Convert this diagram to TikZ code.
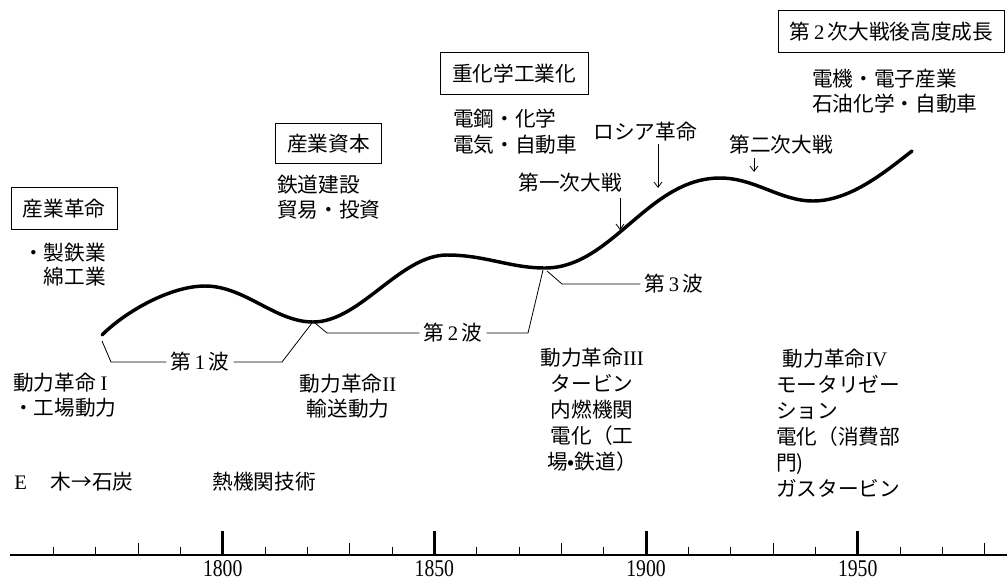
\documentclass[tikz,border=0pt]{standalone}
\usepackage{fontspec}
\setmainfont{Liberation Serif}
\newfontfamily\jp{Noto Sans CJK JP}
\newfontfamily\yearfont[FakeStretch=0.82]{Liberation Serif}
\usetikzlibrary{arrows.meta}
\newcommand\lat[1]{{\rmfamily #1}}
\begin{document}
\begin{tikzpicture}[x=0.75pt,y=-0.75pt,
  txt/.style={inner sep=0pt, font=\jp\fontsize{15.5}{19.5}\selectfont},
  txtB/.style={inner sep=0pt, font=\jp\fontsize{15.5}{18.5}\selectfont},
  boxed/.style={draw, line width=0.75pt, inner sep=0pt, font=\jp\fontsize{15.5}{19}\selectfont},
  wave/.style={line width=0.6pt},
  curve/.style={line width=2.6pt, line cap=round},
  evt/.style={line width=0.6pt, -{Straight Barb[length=4pt,width=6pt]}},
  axisline/.style={line width=2.2pt},
  majortick/.style={line width=2.2pt},
  minortick/.style={line width=0.7pt},
  yearlab/.style={inner sep=0pt, font=\yearfont\fontsize{18}{20}\selectfont}
]
\useasboundingbox (0,0) rectangle (1007,583);

% ---------- boxes ----------
\node[boxed, minimum width=79.5pt, minimum height=32pt] (b1) at (64,208.5) {産業革命};
\node[boxed, minimum width=80pt, minimum height=30pt] (b2) at (328.5,143.5) {産業資本};
\node[boxed, minimum width=111pt, minimum height=31pt] (b3) at (514,73.5) {重化学工業化};
\node[boxed, minimum width=170pt, minimum height=32pt] (b4) at (891.5,31.5) {第\,\lat{2}\,次大戦後高度成長};

% ---------- industry texts ----------
\node[txtB, anchor=west, align=left] (i1) at (23,264.5) {・製鉄業\\　綿工業};
\node[txtB, anchor=west, align=left] (i2) at (277,197.5) {鉄道建設\\貿易・投資};
\node[txt, anchor=west, align=left] (i3) at (453,131.5) {電鋼・化学\\電気・自動車};
\node[txtB, anchor=west, align=left] (i4) at (812,91.5) {電機・電子産業\\石油化学・自動車};

% ---------- power revolutions ----------
\node[txtB, anchor=west, align=left] (p1) at (13,395.5) {動力革命 \lat{I}\\・工場動力};
\node[txtB, align=center] (p2) at (348,396) {動力革命\lat{II}\\輸送動力};
\node[txt, align=center] (p3) at (592,410) {動力革命\lat{III}\\タービン\\内燃機関\\電化（工\\場•鉄道）};
\node[txt, anchor=west, align=left] (p4) at (776,423) {\hspace*{5pt}動力革命\lat{IV}\\モータリゼー\\ション\\電化（消費部\\門)\\ガスタービン};

% ---------- energy row ----------
\node[txt, anchor=west] (e1) at (14,482) {\lat{E}\hspace{18pt}木→石炭};
\node[txt] (e2) at (264,482) {熱機関技術};

% ---------- main curve ----------
\draw[curve] (102,335) .. controls (125,312) and (170,286) .. (205,286)
  .. controls (245,286) and (275,322) .. (313,322)
  .. controls (360,322) and (400,255) .. (447,255)
  .. controls (485,255) and (510,268) .. (545,268)
  .. controls (612,268) and (648,178) .. (720,178)
  .. controls (755,178) and (780,201) .. (813,201)
  .. controls (850,201) and (885,172) .. (912,151);

% ---------- wave labels ----------
\node[txt, inner xsep=3pt] (w1) at (200,362) {第\,\lat{1}\,波};
\node[txt, inner xsep=3pt] (w2) at (453,333) {第\,\lat{2}\,波};
\node[txt, inner xsep=3pt] (w3) at (674,284) {第\,\lat{3}\,波};

\coordinate (s0) at (102,341);
\coordinate (k1) at (111,362);
\coordinate (k2) at (282,362);
\coordinate (t1) at (312,323);
\coordinate (t1b) at (315,323);
\coordinate (k3) at (327,333);
\coordinate (k4) at (528,333);
\coordinate (t2) at (543,270);
\coordinate (t2b) at (547,271);
\coordinate (k5) at (562,284);

\draw[wave] (s0) -- (k1) -- (w1.west);
\draw[wave] (w1.east) -- (k2) -- (t1);
\draw[wave] (t1b) -- (k3) -- (w2.west);
\draw[wave] (w2.east) -- (k4) -- (t2);
\draw[wave] (t2b) -- (k5) -- (w3.west);

% ---------- events ----------
\node[txt] (ev1) at (570,183) {第一次大戦};
\node[txt] (ev2) at (645,132) {ロシア革命};
\node[txt] (ev3) at (781,145) {第二次大戦};
\coordinate (a1s) at (620,198);
\coordinate (a1e) at (620,230);
\coordinate (a2s) at (658,144);
\coordinate (a2e) at (658,188);
\coordinate (a3s) at (754,158);
\coordinate (a3e) at (754,172);
\draw[evt] (a1s) -- (a1e);
\draw[evt] (a2s) -- (a2e);
\draw[evt] (a3s) -- (a3e);

% ---------- time axis ----------
\coordinate (ax0) at (10,555);
\coordinate (ax1) at (1007,555);
\draw[axisline] (ax0) -- (ax1);
\foreach \yr in {1760,1770,1790,1810,1820,1840,1860,1870,1890,1910,1920,1940,1960,1970}{
  \pgfmathsetmacro\xx{222.7+(\yr-1800)*4.2333}
  \draw[minortick] (\xx,555) -- (\xx,547);
}
\foreach \yr in {1780,1830,1880,1930,1980}{
  \pgfmathsetmacro\xx{222.7+(\yr-1800)*4.2333}
  \draw[minortick] (\xx,555) -- (\xx,543);
}
\foreach \yr in {1800,1850,1900,1950}{
  \pgfmathsetmacro\xx{222.7+(\yr-1800)*4.2333}
  \draw[majortick] (\xx,555) -- (\xx,531);
  \node[yearlab] (y\yr) at (\xx,569) {\yr};
}
\end{tikzpicture}
\end{document}
